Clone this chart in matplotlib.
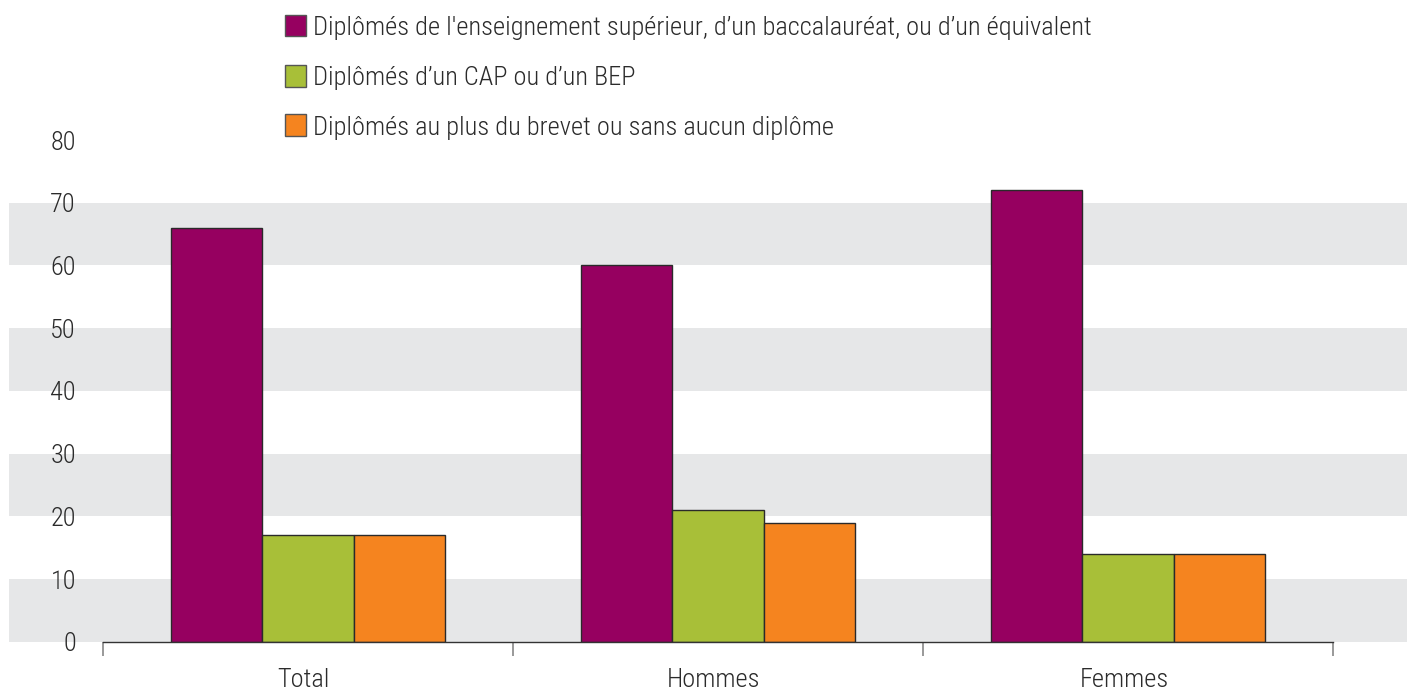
import matplotlib
matplotlib.use("Agg")
import matplotlib.pyplot as plt
from matplotlib.patches import Rectangle
from matplotlib.transforms import blended_transform_factory
import numpy as np

categories = ["Total", "Hommes", "Femmes"]
series_names = [
    "Diplômés de l'enseignement supérieur, d\u2019un baccalauréat, ou d\u2019un équivalent",
    "Diplômés d\u2019un CAP ou d\u2019un BEP",
    "Diplômés au plus du brevet ou sans aucun diplôme",
]
sup = [66, 60, 72]
cap = [17, 21, 14]
brevet = [17, 19, 14]
yticks = [0, 10, 20, 30, 40, 50, 60, 70, 80]
colors = ["#960060", "#a8bf38", "#f5841f"]

plt.rcParams['font.family'] = ['Roboto Condensed', 'DejaVu Sans']
plt.rcParams['font.weight'] = 300
FS = 19.0
TXT = "#2b2b2b"
W, H = 1407, 690
fig = plt.figure(figsize=(W / 100, H / 100), dpi=100)
ax_l, ax_r = 103 / W, 1333 / W
ax_b, ax_t = 1 - 641.9 / H, 1 - 140 / H
ax = fig.add_axes([ax_l, ax_b, ax_r - ax_l, ax_t - ax_b])
ax.set_xlim(-0.5, 2.5)
ax.set_ylim(0, 80)

# grey bands across full width
x0 = (9 - 103) / (1333 - 103)
x1 = (1407 - 103) / (1333 - 103)
for lo in [0, 20, 40, 60]:
    r = Rectangle((x0, lo), x1 - x0, 10, transform=ax.get_yaxis_transform(),
                  facecolor="#e6e7e8", edgecolor="none", clip_on=False, zorder=0)
    ax.add_patch(r)

x = np.arange(len(categories))
w = 0.222
for i, (vals, c) in enumerate(zip([sup, cap, brevet], colors)):
    ax.bar(x + (i - 1) * w, vals, width=w, color=c, edgecolor="#2a2a2a",
           linewidth=1.0, zorder=2)

for s in ["top", "right", "left"]:
    ax.spines[s].set_visible(False)
ax.spines["bottom"].set_color("#333333")
ax.spines["bottom"].set_linewidth(1.0)
ax.spines["bottom"].set_zorder(3)

ax.set_yticks(yticks)
ax.set_yticklabels([str(v) for v in yticks], fontsize=FS, color=TXT,
                   fontweight=300)
ax.tick_params(axis="y", length=0, pad=19.5)
ax.set_xticks([-0.5, 0.5, 1.5, 2.5])
ax.set_xticklabels([])
ax.tick_params(axis="x", length=10, width=1.2, color="#888888", direction="out")
ax.set_facecolor("none")

# category labels (baseline near the bottom edge, as in the reference)
tr = blended_transform_factory(ax.transData, fig.transFigure)
for xi, cat in zip(x, categories):
    ax.text(xi - 0.01, 1 - 687 / H, cat, transform=tr, ha="center", va="baseline",
            fontsize=FS, color=TXT, fontweight=300)

# legend
leg_y = [25.5, 76, 125]
for name, c, yy in zip(series_names, colors, leg_y):
    sq = Rectangle((285 / W, 1 - (yy + 10.5) / H), 21 / W, 21 / H,
                   transform=fig.transFigure, facecolor=c,
                   edgecolor="#555555", linewidth=1.0)
    fig.patches.append(sq)
    fig.text(313 / W, 1 - (yy + 9.5) / H, name, fontsize=FS, color=TXT,
             va="baseline", ha="left", fontweight=300)

fig.savefig("out.png", dpi=100)
